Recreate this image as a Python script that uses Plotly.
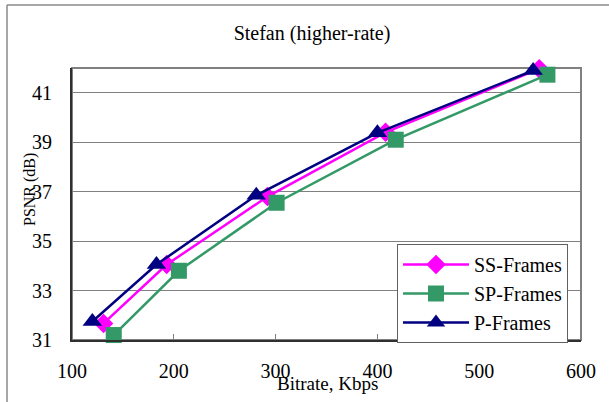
import plotly.graph_objects as go

title_text = "Stefan (higher-rate)"
x_title = "Bitrate, Kbps"
y_title = "PSNR (dB)"

series_names = ["SS-Frames", "SP-Frames", "P-Frames"]
ss_bitrate = [131, 193, 292, 408, 559]
ss_psnr = [31.67, 34.05, 36.8, 39.4, 41.97]
sp_bitrate = [141, 205, 301, 418, 567]
sp_psnr = [31.2, 33.8, 36.55, 39.1, 41.73]
p_bitrate = [120, 183, 281, 400, 553]
p_psnr = [31.75, 34.05, 36.85, 39.38, 41.9]

x_ticks = [100, 200, 300, 400, 500, 600]
y_ticks = [31, 33, 35, 37, 39, 41]

W, H = 609, 402
L, R, T, B = 72, 28, 68, 62
pw, ph = W - L - R, H - T - B

FONT = "Liberation Serif"

fig = go.Figure()
specs = [
    (ss_bitrate, ss_psnr, "#FF00FF", "diamond", 15),
    (sp_bitrate, sp_psnr, "#339966", "square", 16),
    (p_bitrate, p_psnr, "#000080", "triangle-up", 17),
]
for i, (name, (xs, ys, col, sym, sz)) in enumerate(zip(series_names, specs)):
    fig.add_trace(go.Scatter(
        x=xs, y=ys, name=name, mode="lines+markers",
        line=dict(color=col, width=2.5),
        marker=dict(symbol=sym, size=sz, color=col),
        cliponaxis=False, legendgroup=f"g{i}",
    ))

def px(xp):
    return (xp - L) / pw

def py(yp):
    return (H - B - yp) / ph

shapes = [
    dict(type="rect", xref="paper", yref="paper", x0=0, x1=1, y0=0, y1=1,
         line=dict(color="#808080", width=2), layer="below"),
    dict(type="line", xref="paper", yref="paper", x0=px(7), x1=px(7), y0=py(H + 5), y1=py(5),
         line=dict(color="#8a8a8a", width=1.5)),
    dict(type="line", xref="paper", yref="paper", x0=px(7), x1=px(W + 5), y0=py(5), y1=py(5),
         line=dict(color="#8a8a8a", width=1.5)),
]

annotations = [
    dict(text=x_title, xref="paper", yref="paper", x=px(327), y=py(383),
         showarrow=False, font=dict(family=FONT, size=19, color="black"),
         xanchor="center", yanchor="middle"),
    dict(text=y_title, xref="paper", yref="paper", x=px(30), y=py(190),
         showarrow=False, textangle=-90, font=dict(family=FONT, size=16, color="black"),
         xanchor="center", yanchor="middle"),
]

fig.update_layout(
    width=W, height=H,
    margin=dict(l=L, r=R, t=T, b=B),
    paper_bgcolor="white", plot_bgcolor="white",
    font=dict(family=FONT, color="black", size=20),
    title=dict(text=title_text, x=312 / W, xanchor="center", y=1 - 33 / H, yanchor="middle",
               xref="container", yref="container",
               font=dict(family=FONT, size=20, color="black")),
    showlegend=True,
    legend=dict(
        x=px(397), y=py(244), xanchor="left", yanchor="top",
        bgcolor="white", bordercolor="#606060", borderwidth=1,
        font=dict(family=FONT, size=20, color="black"),
        itemwidth=66, tracegroupgap=0, traceorder="grouped",
    ),
    shapes=shapes,
    annotations=annotations,
)

fig.update_xaxes(
    range=[100, 600], tickvals=x_ticks, ticks="inside", ticklen=6, tickcolor="#808080",
    showgrid=False, zeroline=False, showline=True, linecolor="#303030", linewidth=2,
    tickfont=dict(family=FONT, size=20, color="black"), ticklabelstandoff=12,
)
fig.update_yaxes(
    range=[31, 42], tickvals=y_ticks, ticks="", showgrid=True, gridcolor="#808080", gridwidth=1,
    zeroline=False, showline=True, linecolor="#303030", linewidth=2,
    tickfont=dict(family=FONT, size=20, color="black"), ticklabelstandoff=14,
)

fig.write_html("out.html")
